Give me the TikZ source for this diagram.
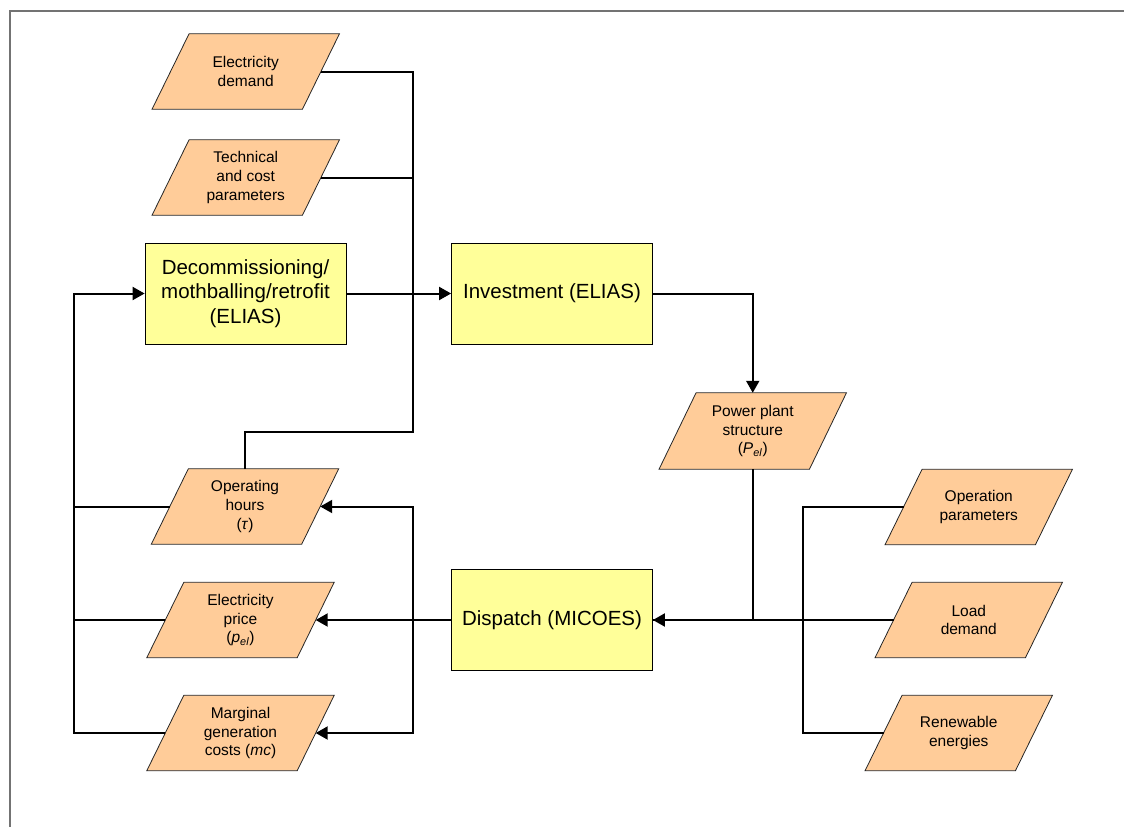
\documentclass[tikz,border=0pt]{standalone}
\usepackage{fontspec}
\setmainfont{Liberation Sans}
\usetikzlibrary{arrows.meta,backgrounds}
\definecolor{peach}{HTML}{FFCC99}
\definecolor{lyellow}{HTML}{FFFF99}
\begin{document}
\begin{tikzpicture}[x=1pt,y=-1pt,
  para/.style={minimum width=150pt, minimum height=75pt, inner sep=0pt, align=center,
    font=\fontsize{15.5}{18.7}\selectfont},
  parashape/.style={fill=peach, draw=black!85, line width=0.8pt},
  procbox/.style={draw=black, line width=0.8pt, fill=lyellow, minimum width=201pt,
    minimum height=101pt, inner sep=0pt, align=center, font=\fontsize{20.5}{24.5}\selectfont},
  conn/.style={line width=2pt, black},
  arr/.style={conn, -{Triangle[length=12pt,width=13pt]}},
  barr/.style={conn, {Triangle[length=12pt,width=13pt]}-{Triangle[length=12pt,width=13pt]}},
  frameline/.style={draw=black!55, line width=1.3pt}
]
\useasboundingbox (0,0) rectangle (1124,827);
\draw[frameline] (1124,11) -- (10,11) -- (10,827);

% input/output parallelograms
\node[para] (ed) at (245.75,71.5) {Electricity\\demand};
\node[para] (tp) at (245.75,177.5) {Technical\\and cost\\parameters};
\node[para] (oh) at (245,506.5) {Operating\\hours\\(\textit{τ})};
\node[para] (ep) at (240.5,620) {Electricity\\price\\(\textit{p}\textsubscript{\textit{el}})};
\node[para] (mc) at (240.5,733) {Marginal\\generation\\costs (\textit{mc})};
\node[para, minimum height=76pt] (pp) at (752.75,431) {Power plant\\structure\\(\textit{P}\textsubscript{\textit{el}})};
\node[para] (op) at (978.75,507) {Operation\\parameters};
\node[para] (ld) at (968.75,620) {Load\\demand};
\node[para] (re) at (958.75,733) {Renewable\\energies};

% process boxes
\node[procbox] (dc) at (245.5,293.5) {Decommissioning/\\mothballing/retrofit\\(ELIAS)};
\node[procbox] (inv) at (552,293.5) {Investment (ELIAS)};
\node[procbox] (ds) at (552,620) {Dispatch (MICOES)};

\begin{scope}[on background layer]
\foreach \n in {ed,tp,oh,ep,mc,pp,op,ld,re}
  \filldraw[parashape] ([xshift=18.5pt]\n.north west) -- ([xshift=18.5pt]\n.north east)
    -- ([xshift=-18.5pt]\n.south east) -- ([xshift=-18.5pt]\n.south west) -- cycle;
\end{scope}

% junction coordinates
\coordinate (tb) at (413,432);
\coordinate (rj) at (803,620);
\coordinate (fb) at (413,620);
\coordinate (lb) at (74,293.5);

% connectors
\draw[conn] (ed.east) -| (tb) -| (oh.north);
\draw[conn] (tp.east) -- (tp.east -| tb);
\draw[arr] (dc.east) -- (inv.west);
\draw[arr] (inv.east) -| (pp.north);
\draw[conn] (pp.south) |- (ds.east);
\draw[arr] (ld.west) -- (ds.east);
\draw[conn] (op.west) -| (rj) |- (re.west);
\draw[arr] (ds.west) -- (ep.east);
\draw[barr] (oh.east) -| (fb) |- (mc.east);
\draw[arr] (mc.west) -| (lb) -- (dc.west);
\draw[conn] (oh.west) -- (oh.west -| lb);
\draw[conn] (ep.west) -- (ep.west -| lb);
\end{tikzpicture}
\end{document}
